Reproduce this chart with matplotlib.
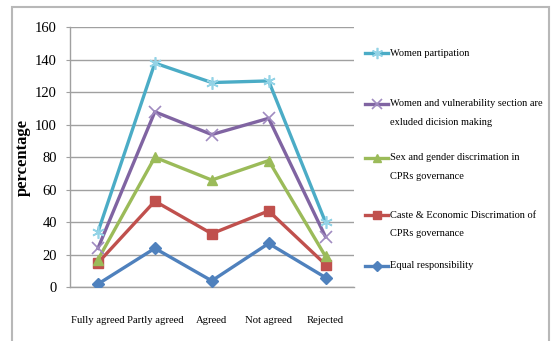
import numpy as np
import matplotlib
matplotlib.use("Agg")
import matplotlib.pyplot as plt
from matplotlib.lines import Line2D
from matplotlib.patches import Rectangle

categories = ["Fully agreed", "Partly agreed", "Agreed", "Not agreed", "Rejected"]

# Stacked-line series (individual contributions, bottom to top)
equal_responsibility = [2, 24, 4, 27, 6]
caste_economic = [13, 29, 29, 20, 8]
sex_gender = [2, 27, 33, 31, 5]
women_vulnerability = [7, 28, 28, 26, 12]
women_participation = [10, 30, 32, 23, 9]

series_labels = [
    "Equal responsibility",
    "Caste & Economic Discrimation of\nCPRs governance",
    "Sex and gender discrimation in\nCPRs governance",
    "Women and vulnerability section are\nexluded dicision making",
    "Women partipation",
]
yticks = [0, 20, 40, 60, 80, 100, 120, 140, 160]

series = [equal_responsibility, caste_economic, sex_gender,
          women_vulnerability, women_participation]
colors = ["#4F81BD", "#C0504D", "#9BBB59", "#8064A2", "#4BACC6"]
mcolors = ["#4F81BD", "#C0504D", "#9BBB59", "#A08BC0", "#93D3E6"]
markers = ["D", "s", "^", "x", (6, 2, 0)]
msizes = [6, 7, 7, 8, 9]
mews = [1, 1, 1, 1.2, 1.2]

W, H = 552, 341
fig = plt.figure(figsize=(W / 100, H / 100), dpi=100)
plt.rcParams['font.family'] = ['Liberation Serif', 'DejaVu Serif']

def fx(px):
    return px / W

def fy(py):
    return 1 - py / H

# outer chart frame
fig.add_artist(Rectangle((fx(12), fy(345)), fx(549) - fx(12), fy(7) - fy(345),
                         transform=fig.transFigure, fill=False,
                         edgecolor="#B8B8B8", linewidth=1.5))

ax_left, ax_right, ax_top, ax_bottom = 69.5, 354, 27.3, 287.3
ax = fig.add_axes([fx(ax_left), fy(ax_bottom), fx(ax_right) - fx(ax_left),
                   fy(ax_top) - fy(ax_bottom)])
x = np.arange(len(categories)) + 0.5
cum = np.cumsum(np.array(series, dtype=float), axis=0)
for i in range(len(series)):
    ax.plot(x, cum[i], color=colors[i], linewidth=2.4, marker=markers[i],
            markersize=msizes[i], markerfacecolor=mcolors[i],
            markeredgecolor=mcolors[i], markeredgewidth=mews[i], zorder=3 + i)

ax.set_xlim(0, 5)
ax.set_ylim(0, 160)
ax.set_yticks(yticks)
ax.set_yticklabels([str(v) for v in yticks], fontsize=10.5)
ax.set_xticks(x)
ax.set_xticklabels(categories, fontsize=7.7)
ax.tick_params(axis='x', length=0, pad=21)
ax.tick_params(axis='y', length=3, color="#A0A0A0", pad=6)
ax.grid(axis='y', color="#A0A0A0", linewidth=1)
ax.set_axisbelow(True)
for s in ["top", "right"]:
    ax.spines[s].set_visible(False)
for s in ["left", "bottom"]:
    ax.spines[s].set_color("#A0A0A0")
    ax.spines[s].set_linewidth(1)
ax.set_ylabel("percentage", fontsize=12, fontweight="bold")
ax.yaxis.set_label_coords((31 - ax_left) / (ax_right - ax_left), 0.5)

# legend, Excel style (top entry first)
legend_y = [53, 104, 158, 215, 266]
order = [4, 3, 2, 1, 0]
for yy, i in zip(legend_y, order):
    fig.add_artist(Line2D([fx(365), fx(376.5), fx(388)], [fy(yy)] * 3,
                          transform=fig.transFigure, color=colors[i], linewidth=2.4,
                          marker=markers[i], markevery=[1], markersize=msizes[i] * 0.9,
                          markerfacecolor=mcolors[i], markeredgecolor=mcolors[i],
                          markeredgewidth=mews[i]))
    for k, line in enumerate(series_labels[i].split("\n")):
        fig.text(fx(390), fy(yy + k * 18.5), line, fontsize=7.5, va="center", ha="left")

fig.savefig("out.png", dpi=100)
